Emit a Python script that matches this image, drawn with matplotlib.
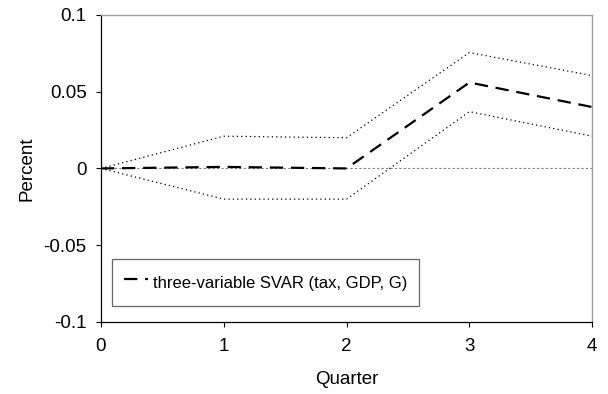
import matplotlib
matplotlib.use("Agg")
import matplotlib.pyplot as plt

quarters = [0, 1, 2, 3, 4]
svar_response = [0.0, 0.001, 0.0, 0.056, 0.040]
upper_band = [0.0, 0.021, 0.020, 0.0755, 0.0605]
lower_band = [0.0, -0.020, -0.020, 0.037, 0.021]
y_ticks = [-0.1, -0.05, 0, 0.05, 0.1]
y_tick_labels = ["-0.1", "-0.05", "0", "0.05", "0.1"]

plt.rcParams["font.family"] = ["Liberation Sans", "DejaVu Sans"]

fig = plt.figure(figsize=(6.08, 3.94), dpi=100)
ax = fig.add_axes([0.166, 0.183, 0.808, 0.779])

ax.axhline(0, color="#808080", lw=0.8, ls=(0, (2, 2)), zorder=1)
ax.plot(quarters, upper_band, color="black", lw=0.9, ls=(0, (1, 2.5)), zorder=2)
ax.plot(quarters, lower_band, color="black", lw=0.9, ls=(0, (1, 2.5)), zorder=2)
ax.plot(quarters, svar_response, color="black", lw=1.6, ls=(0, (6, 3.5)), zorder=3,
        label="three-variable SVAR (tax, GDP, G)")

ax.set_xlim(0, 4)
ax.set_ylim(-0.1, 0.1)
ax.set_xticks(quarters)
ax.set_yticks(y_ticks)
ax.set_yticklabels(y_tick_labels)
ax.tick_params(axis="both", direction="out", length=3.8, width=0.8, labelsize=13.5)
ax.tick_params(axis="x", pad=8)
ax.tick_params(axis="y", pad=6.5)

for side in ("top", "right"):
    ax.spines[side].set_color("#a0a0a0")
    ax.spines[side].set_linewidth(1.0)
for side in ("left", "bottom"):
    ax.spines[side].set_color("black")
    ax.spines[side].set_linewidth(0.9)

ax.set_xlabel("Quarter", fontsize=13.5, labelpad=11)
ax.set_ylabel("Percent", fontsize=13.5, labelpad=6)

leg = ax.legend(loc="lower left", bbox_to_anchor=(0.0224, 0.052), fontsize=12,
                frameon=True, fancybox=False, edgecolor="#404040",
                handlelength=1.45, handleheight=1.8, handletextpad=0.3,
                borderpad=0.7, borderaxespad=0)
leg.get_frame().set_linewidth(0.9)

fig.savefig("out.png", dpi=100)
